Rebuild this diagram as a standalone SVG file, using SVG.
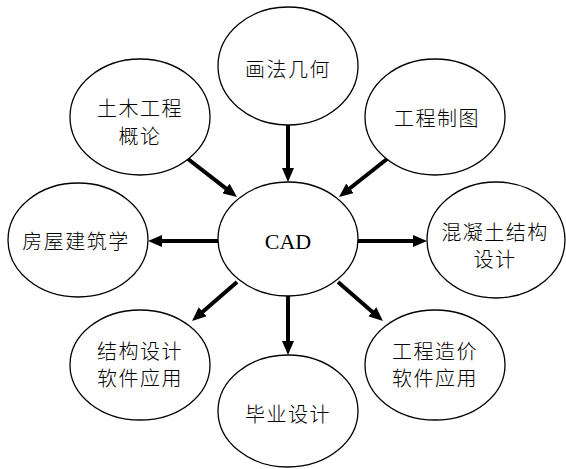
<svg xmlns="http://www.w3.org/2000/svg" width="566" height="469" viewBox="0 0 566 469">
<style>
.n ellipse{fill:#fff;stroke:#000;stroke-width:1.3}
.t{font-family:"Noto Sans CJK SC","Noto Sans CJK JP",sans-serif;font-size:20px;font-weight:300;fill:#000;text-anchor:middle;dominant-baseline:central;letter-spacing:1.5px}
.c{font-family:"Liberation Serif",serif;font-size:22px;fill:#000;text-anchor:middle;dominant-baseline:central}
.e line{stroke:#000;stroke-width:4;marker-end:url(#ah)}
</style>
<defs>
<marker id="ah" viewBox="0 0 14 12" refX="4" refY="6" markerWidth="14" markerHeight="12" markerUnits="userSpaceOnUse" orient="auto">
<path d="M0,0 L14,6 L0,12 z" fill="#000"/>
</marker>
</defs>
<rect width="566" height="469" fill="#fff"/>
<g id="edges" class="e">
<line x1="288" y1="125" x2="288" y2="172"/>
<line x1="188" y1="159" x2="229.1" y2="190.9"/>
<line x1="387" y1="159" x2="346.8" y2="190.8"/>
<line x1="218" y1="241" x2="158" y2="241"/>
<line x1="357" y1="241" x2="417" y2="241"/>
<line x1="237" y1="282" x2="199.6" y2="314.4"/>
<line x1="288" y1="296" x2="288" y2="345"/>
<line x1="338" y1="282" x2="375.4" y2="314.4"/>
</g>
<g id="n-top" class="n"><ellipse cx="288" cy="66" rx="70" ry="59"/><text class="t" x="288" y="68">画法几何</text></g>
<g id="n-tumu" class="n"><ellipse cx="140" cy="117" rx="70" ry="58"/><text class="t" x="140" y="107">土木工程</text><text class="t" x="140" y="135">概论</text></g>
<g id="n-zhitu" class="n"><ellipse cx="435" cy="117" rx="70" ry="58"/><text class="t" x="437" y="117">工程制图</text></g>
<g id="n-cad" class="n"><ellipse cx="288" cy="239" rx="70" ry="57"/><text class="c" x="288" y="241">CAD</text></g>
<g id="n-fangwu" class="n"><ellipse cx="78" cy="240" rx="70" ry="57"/><text class="t" x="76" y="240">房屋建筑学</text></g>
<g id="n-hunning" class="n"><ellipse cx="496" cy="240" rx="69" ry="58"/><text class="t" x="495" y="231">混凝土结构</text><text class="t" x="495" y="258">设计</text></g>
<g id="n-jiegou" class="n"><ellipse cx="140" cy="365" rx="70" ry="55"/><text class="t" x="140" y="350">结构设计</text><text class="t" x="140" y="377">软件应用</text></g>
<g id="n-biye" class="n"><ellipse cx="288" cy="411" rx="70" ry="56"/><text class="t" x="288" y="413">毕业设计</text></g>
<g id="n-zaojia" class="n"><ellipse cx="435" cy="365" rx="70" ry="55"/><text class="t" x="435" y="350">工程造价</text><text class="t" x="435" y="377">软件应用</text></g>
</svg>
